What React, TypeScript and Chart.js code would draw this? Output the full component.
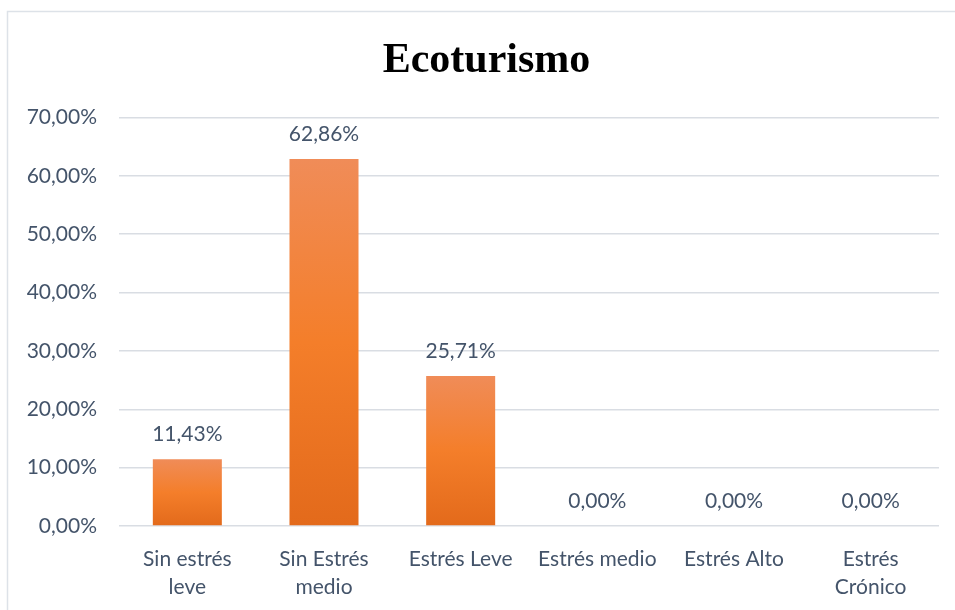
import React, { useEffect, useRef } from "react";
import { Chart, registerables } from "chart.js";

Chart.register(...registerables);

const categories: (string | string[])[] = [
  ["Sin estrés", "leve"],
  ["Sin Estrés", "medio"],
  "Estrés Leve",
  "Estrés medio",
  "Estrés Alto",
  ["Estrés", "Crónico"],
];
const values: number[] = [11.43, 62.86, 25.71, 0, 0, 0];
const titleText = "Ecoturismo";
const yMax = 70;
const yStep = 10;

const TEXT = "#44546a";
const GRID = "#d9dde3";
const FONT = "Lato";

const fmt = (v: number) => v.toFixed(2).replace(".", ",") + "%";

const framePlugin = {
  id: "frame",
  beforeDraw(chart: any) {
    const { ctx, width, height } = chart;
    ctx.save();
    ctx.fillStyle = "#ffffff";
    ctx.fillRect(0, 0, width, height);
    ctx.strokeStyle = "#dde2e8";
    ctx.lineWidth = 1.5;
    ctx.beginPath();
    ctx.moveTo(7.5, height);
    ctx.lineTo(7.5, 11.5);
    ctx.lineTo(width, 11.5);
    ctx.stroke();
    ctx.restore();
  },
};

const labelPlugin = {
  id: "valueLabels",
  afterDatasetsDraw(chart: any) {
    const { ctx } = chart;
    const meta = chart.getDatasetMeta(0);
    ctx.save();
    ctx.fillStyle = TEXT;
    ctx.font = `21px ${FONT}`;
    ctx.textAlign = "center";
    ctx.textBaseline = "alphabetic";
    meta.data.forEach((el: any, i: number) => {
      ctx.fillText(fmt(values[i]), el.x, el.y - 18);
    });
    ctx.restore();
  },
};

export default function App() {
  const ref = useRef<HTMLCanvasElement>(null);
  useEffect(() => {
    if (!ref.current) return;
    const chart = new Chart(ref.current, {
      type: "bar",
      data: {
        labels: categories,
        datasets: [
          {
            data: values,
            barPercentage: 0.505,
            categoryPercentage: 1,
            backgroundColor: (c: any) => {
              const ch = c.chart;
              const ys = ch.scales?.y;
              if (!ys || c.raw === undefined) return "#f07f2a";
              const top = ys.getPixelForValue(c.raw);
              const base = ys.getPixelForValue(0);
              if (!isFinite(top) || !isFinite(base) || top === base) return "#f07f2a";
              const g = ch.ctx.createLinearGradient(0, top, 0, base);
              g.addColorStop(0, "#f08c58");
              g.addColorStop(0.5, "#f47e2a");
              g.addColorStop(1, "#e36a1b");
              return g;
            },
          },
        ],
      },
      options: {
        animation: false,
        responsive: false,
        layout: { padding: { left: 18, right: 0, top: 0, bottom: 0 } },
        plugins: {
          legend: { display: false },
          tooltip: { enabled: false },
          title: {
            display: true,
            text: titleText,
            color: "#000000",
            font: { family: "Liberation Serif", size: 42, weight: "bold", lineHeight: 1.2 },
            padding: { top: 36, bottom: 31 },
          },
        },
        scales: {
          x: {
            grid: { display: false, drawTicks: false },
            border: { display: false },
            ticks: {
              color: TEXT,
              font: { family: FONT, size: 21, lineHeight: 1.35 },
              padding: 19,
              maxRotation: 0,
              autoSkip: false,
            },
            afterFit: (s: any) => {
              s.height = 84;
            },
          },
          y: {
            min: 0,
            max: yMax,
            grid: { color: GRID, lineWidth: 1.5, drawTicks: false },
            border: { display: false },
            ticks: {
              stepSize: yStep,
              color: TEXT,
              font: { family: FONT, size: 21 },
              padding: 22,
              callback: (v: any) => fmt(Number(v)),
            },
            afterFit: (s: any) => {
              s.width = 101;
            },
          },
          yRight: {
            position: "right",
            min: 0,
            max: yMax,
            grid: { display: false, drawTicks: false },
            border: { display: false },
            ticks: { display: false },
            afterFit: (s: any) => {
              s.width = 16;
            },
          },
        },
      },
      plugins: [framePlugin, labelPlugin],
    });
    return () => chart.destroy();
  }, []);
  return (
    <div style={{ position: "fixed", left: 0, top: 0, width: 955, height: 610 }}>
      <canvas ref={ref} width={955} height={610} style={{ display: "block" }} />
    </div>
  );
}
